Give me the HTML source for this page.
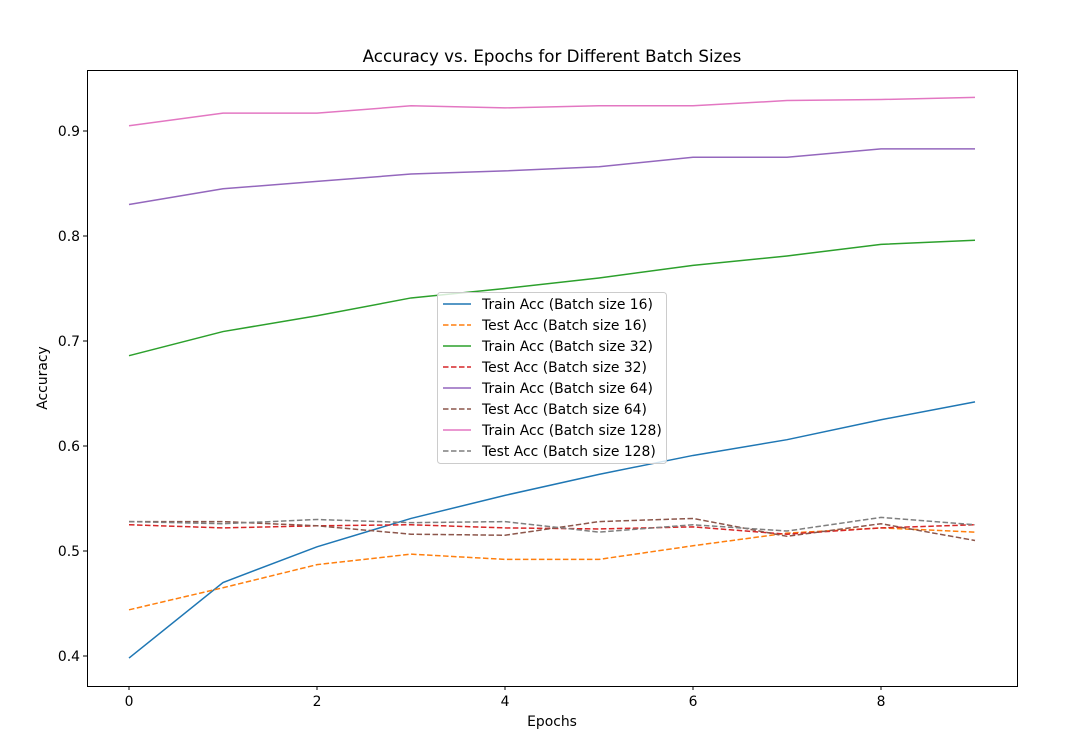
<!DOCTYPE html>
<html><head><meta charset="utf-8"><style>
body{margin:0;background:#fff;font-family:"Liberation Sans","DejaVu Sans",sans-serif}
svg text{font-family:"DejaVu Sans","Liberation Sans",sans-serif}
</style></head><body>
<svg id="chart" width="1092" height="744" xmlns="http://www.w3.org/2000/svg">
<rect width="1092" height="744" fill="#fff"/>
<g id="plot"></g>
</svg>
<script>
const epochs=[0,1,2,3,4,5,6,7,8,9];
const train16=[0.398,0.470,0.504,0.531,0.553,0.573,0.591,0.606,0.625,0.642];
const test16=[0.444,0.465,0.487,0.497,0.492,0.492,0.505,0.517,0.522,0.518];
const train32=[0.686,0.709,0.724,0.741,0.750,0.760,0.772,0.781,0.792,0.796];
const test32=[0.525,0.522,0.524,0.525,0.522,0.521,0.523,0.516,0.522,0.525];
const train64=[0.830,0.845,0.852,0.859,0.862,0.866,0.875,0.875,0.883,0.883];
const test64=[0.528,0.528,0.524,0.516,0.515,0.528,0.531,0.514,0.526,0.510];
const train128=[0.905,0.917,0.917,0.924,0.922,0.924,0.924,0.929,0.930,0.932];
const test128=[0.528,0.526,0.530,0.527,0.528,0.518,0.525,0.519,0.532,0.525];
const xTicks=[0,2,4,6,8];
const yTicks=[0.4,0.5,0.6,0.7,0.8,0.9];
const seriesLabels=["Train Acc (Batch size 16)","Test Acc (Batch size 16)","Train Acc (Batch size 32)","Test Acc (Batch size 32)","Train Acc (Batch size 64)","Test Acc (Batch size 64)","Train Acc (Batch size 128)","Test Acc (Batch size 128)"];
const series=[train16,test16,train32,test32,train64,test64,train128,test128];
const colors=["#1f77b4","#ff7f0e","#2ca02c","#d62728","#9467bd","#8c564b","#e377c2","#7f7f7f"];
const X=v=>129+v*94;
const Y=v=>656-(v-0.4)*1050;
const NS="http://www.w3.org/2000/svg";
const g=document.getElementById('plot');
function mk(t,a,txt){const e=document.createElementNS(NS,t);for(const k in a)e.setAttribute(k,a[k]);if(txt!==undefined)e.textContent=txt;g.appendChild(e);return e;}
let e;
e=mk('rect',{x:87.5,y:70.5,width:930,height:616,fill:'none',stroke:'#000','stroke-width':1});


xTicks.forEach(t=>{
 e=mk('line',{x1:X(t),x2:X(t),y1:686,y2:690,stroke:'#000'});
 
 
 e=mk('text',{x:X(t),y:706,'text-anchor':'middle','font-size':13.9},String(t));
 
 
});
yTicks.forEach(t=>{
 e=mk('line',{x1:83,x2:87,y1:Y(t),y2:Y(t),stroke:'#000'});
 
 
 e=mk('text',{x:80,y:Y(t)+5,'text-anchor':'end','font-size':13.9},t.toFixed(1));
 
 
});
e=mk('text',{x:552,y:726,'text-anchor':'middle','font-size':13.9},'Epochs');


e=mk('text',{x:47,y:378,'text-anchor':'middle','font-size':13.9,transform:'rotate(-90 47 378)'},'Accuracy');


e=mk('text',{x:552,y:62,'text-anchor':'middle','font-size':16.7},'Accuracy vs. Epochs for Different Batch Sizes');


series.forEach((s,i)=>{
 const pts=s.map((v,j)=>X(epochs[j])+','+Y(v)).join(' ');
 const a={points:pts,fill:'none',stroke:colors[i],'stroke-width':1.5};
 if(i%2===1)a['stroke-dasharray']='5.5,2.5';
 e=mk('polyline',a);
 
 
});
e=mk('rect',{x:437.5,y:292.5,width:229,height:171,rx:3,fill:'#fff','fill-opacity':0.8,stroke:'#ccc'});


seriesLabels.forEach((l,i)=>{
 const y=304+i*21;
 const a={x1:443,x2:471,y1:y,y2:y,stroke:colors[i],'stroke-width':1.5};
 if(i%2===1)a['stroke-dasharray']='5.5,2.5';
 e=mk('line',a);
 
 
 e=mk('text',{x:482,y:y+5,'font-size':13.9},l);
 
 
});
</script>
</body></html>
